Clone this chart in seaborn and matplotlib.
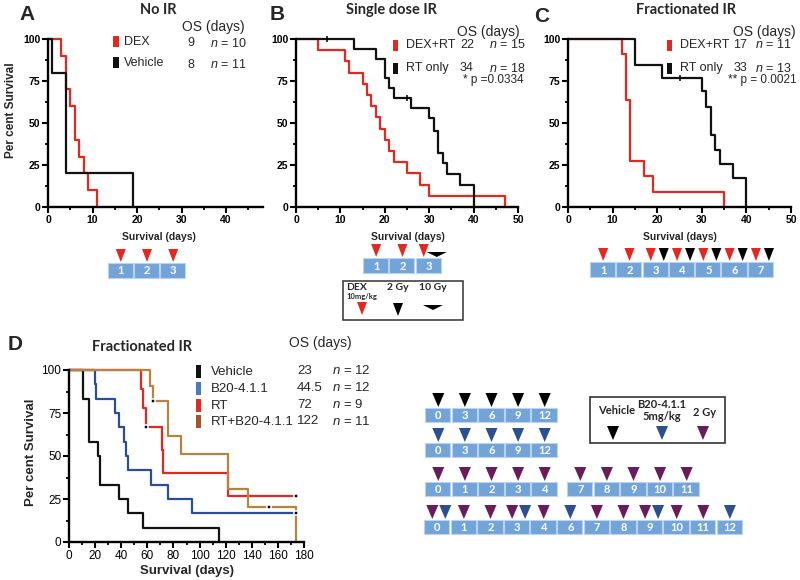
import numpy as np
import pandas as pd
import seaborn as sns
import matplotlib.pyplot as plt
from matplotlib.patches import Rectangle, Polygon
from matplotlib.ticker import MultipleLocator

# ---- Kaplan-Meier curves: (days, % survival) ----
a_dex_t = [0, 3, 4, 5, 6, 7, 8, 9, 11]
a_dex_s = [100, 90, 70, 60, 40, 30, 20, 10, 0]
a_veh_t = [0, 1, 4, 19]
a_veh_s = [100, 80, 20, 0]

b_dex_t = [0, 5, 11, 12, 15, 16, 17, 18, 19, 20, 21, 22, 25, 28, 30, 47]
b_dex_s = [100, 93.3, 86.7, 80, 73.3, 66.7, 60, 53.3, 46.7, 40, 33.3, 26.7, 20, 13.3, 6.7, 0]
b_rt_t = [0, 13, 18, 20, 21, 22, 26, 30, 31, 32, 33, 34, 37, 40]
b_rt_s = [100, 94.1, 88.2, 76.5, 70.6, 64.7, 58.8, 52.9, 45.4, 32.4, 25.9, 19.4, 13.0, 0]
b_cens_t = [7, 25]
b_cens_s = [100, 64.7]

c_dex_t = [0, 12, 13, 14, 17, 19, 35]
c_dex_s = [100, 90.9, 63.6, 27.3, 18.2, 9.1, 0]
c_rt_t = [0, 15, 21, 30, 31, 32, 33, 34, 37, 40]
c_rt_s = [100, 84.6, 76.9, 69.2, 59.8, 42.7, 34.2, 25.6, 17.1, 0]
c_cens_t = [25]
c_cens_s = [76.9]

d_veh_t = [0, 11, 15, 22, 24, 38, 45, 57, 115]
d_veh_s = [100, 83.3, 58.3, 50, 33.3, 25, 16.7, 8.3, 0]
d_b20_t = [0, 20, 21, 35, 38, 42, 44, 45, 63, 76, 94, 174]
d_b20_s = [100, 91.7, 83.3, 75, 66.7, 58.3, 50, 41.7, 33.3, 25, 16.7, 16.7]
d_rt_t = [0, 55, 57, 59, 71, 72, 122, 174]
d_rt_s = [100, 88.9, 77.8, 66.7, 53.3, 40, 26.7, 26.7]
d_combo_t = [0, 62, 64, 76, 86, 122, 137, 174]
d_combo_s = [100, 90.9, 81.8, 61.4, 51.1, 30.7, 20.5, 0]
d_cens_t = [59, 64, 153, 174, 174]
d_cens_s = [66.7, 81.8, 20.5, 26.7, 16.7]

# ---- legend tables ----
a_groups = ['DEX', 'Vehicle']
a_os = ['9', '8']
a_n = ['10', '11']
bc_groups = ['DEX+RT', 'RT only']
b_os = ['22', '34']
b_n = ['15', '18']
c_os = ['17', '33']
c_n = ['11', '13']
d_groups = ['Vehicle', 'B20-4.1.1', 'RT', 'RT+B20-4.1.1']
d_os = ['23', '44.5', '72', '122']
d_n = ['12', '12', '9', '11']

# ---- dosing schedules (day label per box, agents given that day) ----
a_days = ['1', '2', '3']
a_doses = [['dex'], ['dex'], ['dex']]
b_days = ['1', '2', '3']
b_doses = [['dex'], ['dex'], ['dex', 'rt10']]
c_days = ['1', '2', '3', '4', '5', '6', '7']
c_doses = [['dex'], ['dex']] + [['dex', 'rt2']] * 5
d_days = [['0', '3', '6', '9', '12'],
          ['0', '3', '6', '9', '12'],
          ['0', '1', '2', '3', '4', '7', '8', '9', '10', '11'],
          ['0', '1', '2', '3', '4', '6', '7', '8', '9', '10', '11', '12']]
d_doses = [[['veh']] * 5,
           [['b20']] * 5,
           [['gy']] * 10,
           [['gy', 'b20'], ['gy'], ['gy'], ['gy', 'b20'], ['gy'], ['b20'],
            ['gy'], ['gy'], ['gy', 'b20'], ['gy'], ['gy'], ['b20']]]

RED = '#e5281f'
BLACK = '#111111'
D_COLORS = {'Vehicle': BLACK, 'B20-4.1.1': '#2b4c98', 'RT': '#e5281f', 'RT+B20-4.1.1': '#b8823f'}
D_SWATCH = {'Vehicle': BLACK, 'B20-4.1.1': '#4a7bbd', 'RT': '#e02a24', 'RT+B20-4.1.1': '#a45422'}
AGENT = {'dex': (RED, 10, 13), 'rt2': ('black', 10, 13), 'rt10': ('black', 20, 5),
         'veh': ('black', 12, 14), 'b20': ('#2b4f8f', 12, 14), 'gy': ('#6a1b5a', 12, 14)}
BOX_FC = '#72a4d9'
BOX_EC = '#b9d4ef'

sns.set_theme(style="ticks")
plt.rcParams['font.family'] = ['Liberation Sans', 'DejaVu Sans']
plt.rcParams['mathtext.fontset'] = 'custom'
plt.rcParams['mathtext.it'] = 'Liberation Sans:italic'
plt.rcParams['mathtext.rm'] = 'Liberation Sans'

W, H = 800, 580
fig = plt.figure(figsize=(8, 5.8), dpi=100)

# overlay in pixel coordinates for annotations and schematics
sk = fig.add_axes([0, 0, 1, 1])
sk.set_xlim(0, W)
sk.set_ylim(H, 0)
sk.axis('off')
sk.set_zorder(5)


def px_axes(l, t, r, b):
    return fig.add_axes([l / W, 1 - b / H, (r - l) / W, (b - t) / H])


def km_panel(box, curves, colors, xmax, xmajor, xminor, bold=True, tsize=7.5):
    ax = px_axes(*box)
    ax.set_facecolor('none')
    frames = [pd.DataFrame({'time': t, 'surv': s, 'group': g}) for g, (t, s) in curves.items()]
    df = pd.concat(frames, ignore_index=True)
    sns.lineplot(data=df, x='time', y='surv', hue='group', hue_order=list(curves),
                 palette=colors, drawstyle='steps-post', estimator=None, sort=False,
                 legend=False, linewidth=1.6, clip_on=False, ax=ax)
    ax.set_xlim(0, xmax)
    ax.set_ylim(0, 100)
    ax.xaxis.set_major_locator(MultipleLocator(xmajor))
    ax.xaxis.set_minor_locator(MultipleLocator(xminor))
    ax.yaxis.set_major_locator(MultipleLocator(25))
    ax.yaxis.set_minor_locator(MultipleLocator(12.5))
    sns.despine(ax=ax)
    for sp in ('left', 'bottom'):
        ax.spines[sp].set_linewidth(1.7)
        ax.spines[sp].set_color('black')
    ax.tick_params(which='major', length=4, width=1.5, pad=1.5, labelsize=tsize, colors='black')
    ax.tick_params(which='minor', length=2.5, width=1.3, colors='black')
    if bold:
        for lab in ax.get_xticklabels() + ax.get_yticklabels():
            lab.set_fontweight('bold')
    ax.set_xlabel('')
    ax.set_ylabel('')
    return ax


def censor(ax, t, s, marker='|', size=18):
    sns.scatterplot(x=t, y=s, marker=marker, s=size, color='black', linewidth=1.1,
                    clip_on=False, zorder=4, ax=ax)


def draw_tri(cx, tip, agent):
    col, w, h = AGENT[agent]
    sk.add_patch(Polygon([(cx - w / 2, tip - h), (cx + w / 2, tip - h), (cx, tip)],
                         closed=True, fc=col, ec='none'))


def schedule_row(x0, top, labels, doses, w=26.3, h=15, gap_at=None, gap=9):
    x = x0
    for i, (lab, agents) in enumerate(zip(labels, doses)):
        if gap_at is not None and i == gap_at:
            x += gap
        sk.add_patch(Rectangle((x, top), w - 1.2, h, fc=BOX_FC, ec=BOX_EC, lw=0.8))
        sk.text(x + w / 2, top + h / 2 + 0.5, lab, ha='center', va='center', color='white',
                fontsize=8, fontweight='bold', family='Lato')
        offs = [0] if len(agents) == 1 else [-5, 8]
        for ag, off in zip(agents, offs):
            draw_tri(x + w / 2 + off, top - 1, ag)
        x += w


# ---- panel A ----
axA = km_panel((48, 39, 263, 207), {'DEX': (a_dex_t, a_dex_s), 'Vehicle': (a_veh_t, a_veh_s)},
               {'DEX': RED, 'Vehicle': BLACK}, 48.3, 10, 5)
axA.set_ylabel('Per cent Survival', fontsize=8.5, fontweight='bold', va='center')
axA.yaxis.set_label_coords(11, 110, transform=sk.transData)

# ---- panel B ----
axB = km_panel((296, 39, 518, 207), {'DEX+RT': (b_dex_t, b_dex_s), 'RT only': (b_rt_t, b_rt_s)},
               {'DEX+RT': RED, 'RT only': BLACK}, 50, 10, 5)
censor(axB, b_cens_t, b_cens_s)

# ---- panel C ----
axC = km_panel((568, 39, 791, 207), {'DEX+RT': (c_dex_t, c_dex_s), 'RT only': (c_rt_t, c_rt_s)},
               {'DEX+RT': RED, 'RT only': BLACK}, 50, 10, 5)
censor(axC, c_cens_t, c_cens_s)

for ax, cx in ((axA, 159), (axB, 408), (axC, 680)):
    ax.set_xlabel('Survival (days)', fontsize=7.5, fontweight='bold', va='center')
    ax.xaxis.set_label_coords(cx, 237, transform=sk.transData)

# ---- panel D ----
axD = km_panel((69, 370, 304, 542),
               {'Vehicle': (d_veh_t, d_veh_s), 'B20-4.1.1': (d_b20_t, d_b20_s),
                'RT': (d_rt_t, d_rt_s), 'RT+B20-4.1.1': (d_combo_t, d_combo_s)},
               D_COLORS, 180, 20, 10, bold=False, tsize=8.5)
censor(axD, d_cens_t, d_cens_s, marker='s', size=5)
axD.set_xlabel('Survival (days)', fontsize=9.5, fontweight='bold', va='center')
axD.xaxis.set_label_coords(187, 571, transform=sk.transData)
axD.set_ylabel('Per cent Survival', fontsize=9.5, fontweight='bold', va='center')
axD.yaxis.set_label_coords(31, 452, transform=sk.transData)

# ---- panel letters and titles ----
for lab, x, y in (('A', 27, 15), ('B', 277, 15), ('C', 542, 17), ('D', 15, 345)):
    sk.text(x, y, lab, ha='center', va='center', fontsize=15, fontweight='bold')
for title, x, y in (('No IR', 158, 10), ('Single dose IR', 391, 10),
                    ('Fractionated IR', 686, 10), ('Fractionated IR', 142, 347)):
    sk.text(x, y, title, ha='center', va='center', fontsize=10.5, fontweight='bold', family='Lato')

# ---- in-plot legends ----
leg_fs = 9
sk.text(213, 27, 'OS (days)', ha='center', va='center', fontsize=10)
for i, (g, os_, n) in enumerate(zip(a_groups, a_os, a_n)):
    y = 42 + i * 21
    sk.add_patch(Rectangle((113, y - 6), 6, 11, fc=[RED, BLACK][i], ec='none'))
    sk.text(124, y, g, ha='left', va='center', fontsize=leg_fs)
    sk.text(191, y + 1.5, os_, ha='center', va='center', fontsize=leg_fs)
    sk.text(210, y + 1.5, r'$n$ = ' + n, ha='left', va='center', fontsize=leg_fs)

for x_sw, x_os, x_n, os_list, n_list, ptxt, x_p, x_hdr in (
        (393, 467, 489, b_os, b_n, '* p =0.0334', 524, 488),
        (667, 740, 755, c_os, c_n, '** p = 0.0021', 797, 764)):
    sk.text(x_hdr, 32, 'OS (days)', ha='center', va='center', fontsize=10)
    for i, (g, os_, n) in enumerate(zip(bc_groups, os_list, n_list)):
        y = 45 + i * 23
        sk.add_patch(Rectangle((x_sw, y - 5.5), 5, 11, fc=[RED, BLACK][i], ec='none'))
        sk.text(x_sw + 13, y, g, ha='left', va='center', fontsize=leg_fs)
        sk.text(x_os, y, os_, ha='center', va='center', fontsize=leg_fs)
        sk.text(x_n, y, r'$n$ = ' + n, ha='left', va='center', fontsize=leg_fs)
    sk.text(x_p, 80, ptxt, ha='right', va='center', fontsize=8.5)

sk.text(320, 343, 'OS (days)', ha='center', va='center', fontsize=10)
for i, (g, os_, n) in enumerate(zip(d_groups, d_os, d_n)):
    y = 372 + i * 16.8
    sk.add_patch(Rectangle((196, y - 7), 5, 13, fc=D_SWATCH[g], ec='none'))
    sk.text(211, y, g, ha='left', va='center', fontsize=9.5)
    sk.text(297, y - 1, os_, ha='left', va='center', fontsize=9.5)
    sk.text(332, y - 1, r'$n$ = ' + n, ha='left', va='center', fontsize=9.5)

# ---- dosing schematics ----
schedule_row(107.7, 263, a_days, a_doses, w=26.2)
schedule_row(363, 258, b_days, b_doses, w=26.3)
schedule_row(590, 262, c_days, c_doses, w=26.3)
for days, doses, top, x0, gap_at in zip(d_days, d_doses, (408, 443, 482, 520),
                                        (425, 425, 425, 424), (None, None, 5, None)):
    schedule_row(x0, top, days, doses, w=26.6, h=14, gap_at=gap_at)

# key for panel B
sk.add_patch(Rectangle((343, 281), 120, 39, fc='white', ec='#333333', lw=1.1))
sk.text(357, 288, 'DEX', ha='center', va='center', fontsize=7.5, fontweight='bold', family='Lato')
sk.text(362, 296, '10mg/kg', ha='center', va='center', fontsize=5.5, fontweight='bold', family='Lato')
sk.text(398, 288, '2 Gy', ha='center', va='center', fontsize=7.5, fontweight='bold', family='Lato')
sk.text(433, 288, '10 Gy', ha='center', va='center', fontsize=7.5, fontweight='bold', family='Lato')
for ag, cx, tip in (('dex', 362, 315), ('rt2', 398, 316), ('rt10', 433, 310)):
    draw_tri(cx, tip, ag)

# key for panel D
sk.add_patch(Rectangle((590, 397), 135, 46, fc='white', ec='#333333', lw=1.2))
sk.text(617, 411, 'Vehicle', ha='center', va='center', fontsize=8, fontweight='bold', family='Lato')
sk.text(662, 405, 'B20-4.1.1', ha='center', va='center', fontsize=8, fontweight='bold', family='Lato')
sk.text(662, 417, '5mg/kg', ha='center', va='center', fontsize=8, fontweight='bold', family='Lato')
sk.text(705, 412, '2 Gy', ha='center', va='center', fontsize=8, fontweight='bold', family='Lato')
for ag, cx in (('veh', 613), ('b20', 662), ('gy', 703)):
    draw_tri(cx, 440, ag)

fig.savefig('out.png', dpi=100, facecolor='white')
